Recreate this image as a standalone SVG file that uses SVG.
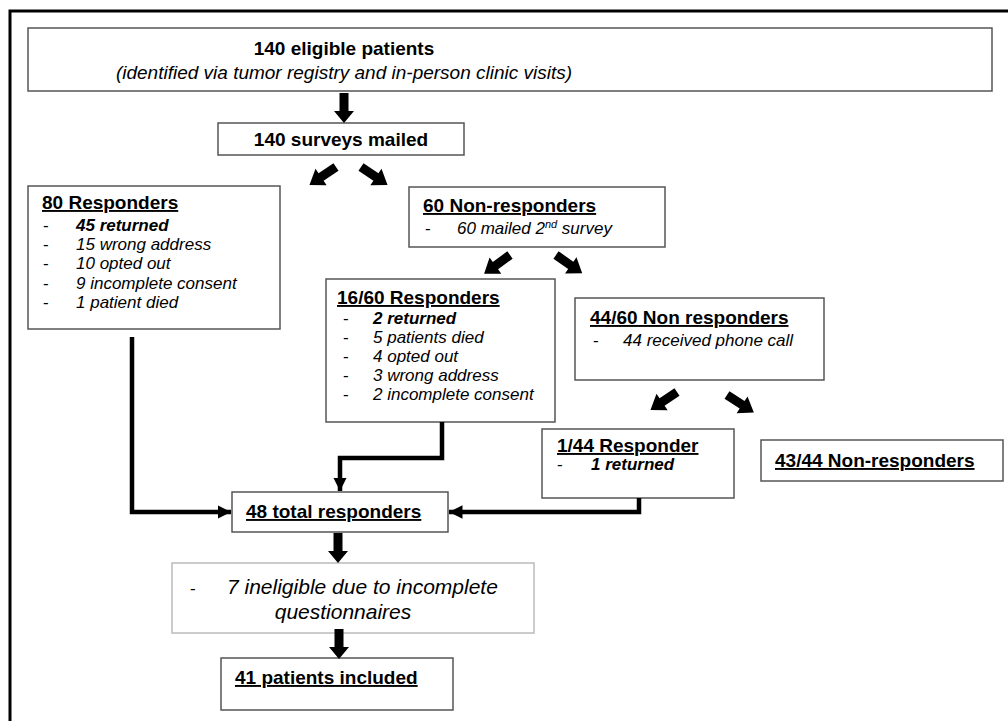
<svg xmlns="http://www.w3.org/2000/svg" xmlns:xlink="http://www.w3.org/1999/xlink" width="1008" height="721" viewBox="0 0 1008 721">
<style>
.box{fill:#fff;stroke:#555;stroke-width:1.5}
.lbox{fill:#fff;stroke:#bbb;stroke-width:1.5}
.t{font-family:"Liberation Sans",Arial,sans-serif;font-weight:bold;font-size:19px;fill:#000}
.u{text-decoration:underline}
.i{font-family:"Liberation Sans",Arial,sans-serif;font-style:italic;font-size:17px;fill:#000}
.i19{font-size:19px}
.i21{font-size:21px}
.ib{font-weight:bold}
.d{font-family:"Liberation Sans",Arial,sans-serif;font-size:17px;fill:#000}
.conn{fill:none;stroke:#000;stroke-width:4.5}
.blk{fill:#000}
</style>
<defs>
<path id="varrow" d="M-4.5,0 H4.5 V18 H10 L0,30 L-10,18 H-4.5 Z"/>
<path id="darrow" d="M0,-4.5 H18 V-10 L32,0 L18,10 V4.5 H0 Z"/>
<marker id="ah" viewBox="0 0 10 10" refX="10" refY="5" markerWidth="3" markerHeight="3" orient="auto" markerUnits="strokeWidth">
<path d="M0,0 L10,5 L0,10 Z" fill="#000"/>
</marker>
</defs>
<rect width="1008" height="721" fill="#fff"/>
<path d="M10,721 V11 H1008" fill="none" stroke="#000" stroke-width="3"/>

<g id="n_eligible">
<rect class="box" x="28" y="28" width="964" height="63"/>
<text class="t" x="344" y="55" text-anchor="middle">140 eligible patients</text>
<text class="i i19" x="344" y="79" text-anchor="middle">(identified via tumor registry and in-person clinic visits)</text>
</g>
<g id="n_mailed">
<rect class="box" x="218" y="123" width="246" height="32"/>
<text class="t" x="341" y="146" text-anchor="middle">140 surveys mailed</text>
</g>
<g id="n_resp80">
<rect class="box" x="28" y="186" width="252" height="143"/>
<text class="t u" x="42" y="209">80 Responders</text>
<text class="d" x="43" y="231">-</text><text class="i ib" x="76" y="231">45 returned</text>
<text class="d" x="43" y="250">-</text><text class="i" x="76" y="250">15 wrong address</text>
<text class="d" x="43" y="269">-</text><text class="i" x="76" y="269">10 opted out</text>
<text class="d" x="43" y="289">-</text><text class="i" x="76" y="289">9 incomplete consent</text>
<text class="d" x="43" y="308">-</text><text class="i" x="76" y="308">1 patient died</text>
</g>
<g id="n_nonresp60">
<rect class="box" x="409" y="187" width="256" height="60"/>
<text class="t u" x="423" y="212">60 Non-responders</text>
<text class="d" x="425" y="234">-</text><text class="i" x="457" y="234">60 mailed 2<tspan style="font-size:11px" dy="-6">nd</tspan><tspan dy="6"> survey</tspan></text>
</g>
<g id="n_resp16">
<rect class="box" x="326" y="279" width="229" height="143"/>
<text class="t u" x="337" y="304">16/60 Responders</text>
<text class="d" x="343" y="324">-</text><text class="i ib" x="373" y="324">2 returned</text>
<text class="d" x="343" y="343">-</text><text class="i" x="373" y="343">5 patients died</text>
<text class="d" x="343" y="362">-</text><text class="i" x="373" y="362">4 opted out</text>
<text class="d" x="343" y="381">-</text><text class="i" x="373" y="381">3 wrong address</text>
<text class="d" x="343" y="400">-</text><text class="i" x="373" y="400">2 incomplete consent</text>
</g>
<g id="n_nonresp44">
<rect class="box" x="575" y="298" width="249" height="82"/>
<text class="t u" x="590" y="324">44/60 Non responders</text>
<text class="d" x="593" y="346">-</text><text class="i" x="623" y="346">44 received phone call</text>
</g>
<g id="n_resp1">
<rect class="box" x="542" y="429" width="192" height="69"/>
<text class="t u" x="557" y="452">1/44 Responder</text>
<text class="d" x="557" y="470">-</text><text class="i ib" x="591" y="470">1 returned</text>
</g>
<g id="n_nonresp43">
<rect class="box" x="761" y="440" width="242" height="41"/>
<text class="t u" x="775" y="467">43/44 Non-responders</text>
</g>
<g id="n_total48">
<rect class="box" x="232" y="492" width="216" height="40"/>
<text class="t u" x="246" y="518">48 total responders</text>
</g>
<g id="n_inelig">
<rect class="lbox" x="172" y="563" width="362" height="70"/>
<text class="d" x="190" y="594">-</text><text class="i i21" x="227" y="594">7 ineligible due to incomplete</text>
<text class="i i21" x="343" y="619" text-anchor="middle">questionnaires</text>
</g>
<g id="n_included">
<rect class="box" x="221" y="658" width="232" height="52"/>
<text class="t u" x="235" y="684">41 patients included</text>
</g>

<g id="connectors">
<use xlink:href="#varrow" class="blk" transform="translate(344,93)"/>
<use xlink:href="#darrow" class="blk" transform="translate(336,167) rotate(146)"/>
<use xlink:href="#darrow" class="blk" transform="translate(361,167) rotate(34)"/>
<use xlink:href="#darrow" class="blk" transform="translate(510,255) rotate(144)"/>
<use xlink:href="#darrow" class="blk" transform="translate(556,255) rotate(35)"/>
<use xlink:href="#darrow" class="blk" transform="translate(677,392) rotate(146)"/>
<use xlink:href="#darrow" class="blk" transform="translate(727,395) rotate(33)"/>
<path class="conn" d="M132,337 V512 H231" marker-end="url(#ah)"/>
<path class="conn" d="M442,422 V458 H340 V491" marker-end="url(#ah)"/>
<path class="conn" d="M639,498 V512 H449" marker-end="url(#ah)"/>
<use xlink:href="#varrow" class="blk" transform="translate(338,533)"/>
<use xlink:href="#varrow" class="blk" transform="translate(339,629)"/>
</g>
</svg>
